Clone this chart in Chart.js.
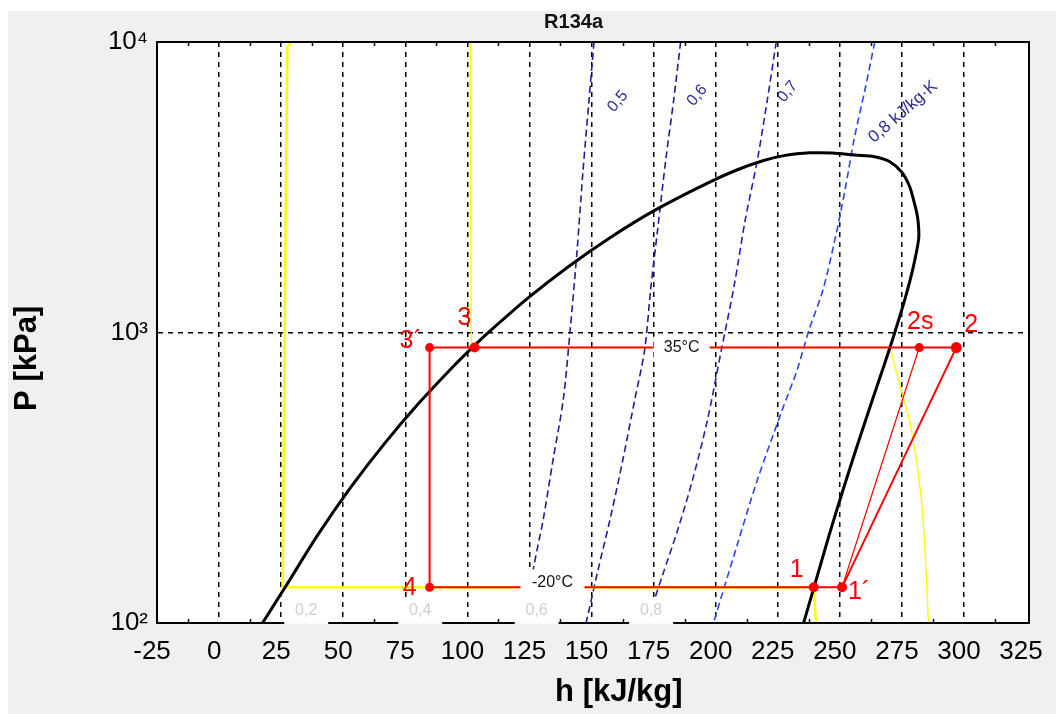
<!DOCTYPE html>
<html>
<head>
<meta charset="utf-8">
<script src="https://cdn.jsdelivr.net/npm/chart.js@4.4.0/dist/chart.umd.min.js"></script>
<style>
  html, body { margin: 0; padding: 0; background: #fff; }
  #chartHolder { width: 1056px; height: 714px; }
</style>
</head>
<body>
<div id="chartHolder"><canvas id="phChart" width="1056" height="714"></canvas></div>
<script>
// R134a pressure-enthalpy diagram, h in kJ/kg, P in kPa

// axis ticks
let hTickLabels = [-25, 0, 25, 50, 75, 100, 125, 150, 175, 200, 225, 250, 275, 300, 325];
let gridLineH = [2, 27, 52, 77, 102, 127, 152, 177, 202, 227, 252, 277, 302];
let minorTickH = [-10.5, 14.5, 39.5, 64.5, 89.5, 114.5, 139.5, 164.5, 189.5, 214.5, 239.5, 264.5, 289.5, 314.5];
let pTickValues = [100, 1000, 10000];
let pTickLabels = ["10\u00b2", "10\u00b3", "10\u2074"];

// saturation dome: liquid side -> critical region -> vapour side
let domeH = [19.5, 28.6, 41.7, 55.0, 68.6, 82.5, 96.7, 104.0, 111.4, 126.6, 142.5, 159.3, 177.4, 197.9, 210.0, 221.0, 230.0, 240.0, 249.0, 258.0, 266.0, 272.0, 276.9, 280.0, 281.7, 283.3, 283.8, 283.7, 281.6, 278.4, 274.4, 272.2, 269.8, 264.7, 259.3, 253.6, 247.7, 241.6, 237.6, 237.4];
let domeP = [100, 132.7, 200.6, 292.8, 414.6, 571.7, 770.2, 887.5, 1016.6, 1317.9, 1681.6, 2116.5, 2633.1, 3244, 3611, 3903, 4071, 4153, 4150, 4080, 4030, 3880, 3570, 3200, 2860, 2500, 2250, 2080, 1681.6, 1317.9, 1016.6, 887.5, 770.2, 571.7, 414.6, 292.8, 200.6, 132.7, 101.3, 100];

// isotherms
let isoMinus20H = [31.1, 29.5, 28.9, 28.2, 27.6, 241.5, 242.4];
let isoMinus20P = [10000, 9600, 3000, 600, 132.7, 132.7, 100];
let iso35H = [103.1, 103.3, 103.6, 272.2, 276.1, 280.1, 282.9, 284.9, 286.1, 286.9, 287.7];
let iso35P = [10000, 3000, 887.5, 887.5, 660, 500, 364, 265, 193, 141, 100];

// isentropes s = 0.5 ... 0.8 kJ/kgK
let s05H = [153.0, 151.0, 148.6, 146.2, 143.4, 140.6, 136.5, 132.5, 128.5, 125.7];
let s05P = [10000, 6317, 3624, 1923, 1020, 586, 364, 226, 152, 100];
let s06H = [187.9, 185.1, 181.9, 178.6, 175.8, 173.4, 169.4, 164.6, 159.4, 154.6, 150.6, 149.8];
let s06P = [10000, 6317, 3925, 2253, 1401, 871, 586, 364, 226, 152, 107, 100];
let s07H = [226.4, 222.8, 218.8, 213.9, 209.5, 204.3, 198.7, 192.7, 186.7, 180.6, 176.6, 174.6];
let s07P = [10000, 6317, 3925, 2439, 1457, 871, 500, 311, 209, 146, 115, 100];
let s08H = [266.1, 262.1, 257.7, 254.1, 250.0, 245.2, 239.6, 234.8, 228.8, 218.8, 210.7, 201.1];
let s08P = [10000, 6834, 4598, 3094, 2081, 1401, 1020, 743, 541, 311, 186, 100];

// refrigeration cycle
let stateNames = ["3\u00b4", "3", "2s", "2", "4", "1", "1\u00b4"];
let stateH = [86.8, 104.9, 284.0, 298.9, 86.8, 241.5, 252.9];
let stateP = [887.5, 887.5, 887.5, 887.5, 132.7, 132.7, 132.7];
let cycleH = [298.9, 86.8, 86.8, 252.9, 298.9];
let cycleP = [887.5, 887.5, 132.7, 132.7, 887.5];
let compressionH = [252.9, 284.0];
let compressionP = [132.7, 887.5];

// annotations
let sLabelText = ["0,5", "0,6", "0,7", "0,8 kJ/kg\u00b7K"];
let sLabelH = [162.6, 194.6, 231.0, 277.5];
let sLabelP = [6250, 6550, 6750, 5750];
let qualityText = ["0,2", "0,4", "0,6", "0,8"];
let qualityH = [37.1, 83.0, 129.9, 176.0];
let qualityP = [110, 110, 110, 110];
let tempText = ["35\u00b0C", "-20\u00b0C"];
let tempH = [188.3, 136.3];
let tempP = [887.5, 132.7];

const fontFamily = "'Liberation Sans', Arial, sans-serif";
Chart.defaults.font.family = fontFamily;

const toPoints = (hValues, pValues) => hValues.map((h, i) => ({ x: h, y: pValues[i] }));

const stateLabelDx = [-19, -10, 1, 15, -20, -17, 17];
const stateLabelDy = [-6, -29, -25, -22, 1, -17, 5];

const diagramDecor = {
  id: "diagramDecor",
  beforeDraw(chart) {
    const { ctx, width, height, chartArea } = chart;
    ctx.save();
    ctx.fillStyle = "#ffffff";
    ctx.fillRect(0, 0, width, height);
    ctx.fillStyle = "#f0f0f0";
    ctx.fillRect(8, 11, width - 8, height - 11);
    ctx.fillStyle = "#ffffff";
    ctx.fillRect(chartArea.left, chartArea.top, chartArea.width, chartArea.height);
    ctx.restore();
  },
  afterDatasetsDraw(chart) {
    const { ctx, chartArea } = chart;
    const xScale = chart.scales.x;
    const yScale = chart.scales.y;
    ctx.save();
    // frame
    ctx.strokeStyle = "#000";
    ctx.lineWidth = 2;
    ctx.strokeRect(chartArea.left, chartArea.top, chartArea.width, chartArea.height);
    // small tick marks on top and bottom edges
    ctx.lineWidth = 1.5;
    ctx.beginPath();
    minorTickH.forEach((h) => {
      const px = Math.round(xScale.getPixelForValue(h)) + 0.5;
      ctx.moveTo(px, chartArea.top);
      ctx.lineTo(px, chartArea.top + 4);
      ctx.moveTo(px, chartArea.bottom);
      ctx.lineTo(px, chartArea.bottom - 4);
    });
    ctx.stroke();
    // vapour quality labels on white boxes over the bottom edge
    ctx.font = "16px " + fontFamily;
    ctx.textAlign = "center";
    ctx.textBaseline = "middle";
    qualityText.forEach((text, i) => {
      const px = xScale.getPixelForValue(qualityH[i]);
      const py = yScale.getPixelForValue(qualityP[i]);
      ctx.fillStyle = "#ffffff";
      ctx.fillRect(px - 22, py - 13, 44, 26);
      ctx.fillStyle = "#cfcfcf";
      ctx.fillText(text, px, py);
    });
    // temperature labels
    tempText.forEach((text, i) => {
      const px = xScale.getPixelForValue(tempH[i]);
      const py = yScale.getPixelForValue(tempP[i]);
      const half = i === 0 ? 28 : 32;
      const top = i === 0 ? -11 : -18;
      const boxH = i === 0 ? 22 : 28;
      ctx.fillStyle = "#ffffff";
      ctx.fillRect(px - half, py + top, half * 2, boxH);
      ctx.fillStyle = "#111";
      ctx.font = "16px " + fontFamily;
      ctx.fillText(text, px, i === 0 ? py : py - 5);
    });
    // state labels
    ctx.font = "25px " + fontFamily;
    ctx.fillStyle = "#ff0000";
    stateNames.forEach((name, i) => {
      const px = xScale.getPixelForValue(stateH[i]);
      const py = yScale.getPixelForValue(stateP[i]);
      ctx.fillText(name, px + stateLabelDx[i], py + stateLabelDy[i]);
    });
    // entropy labels
    ctx.fillStyle = "#2a2a9a";
    sLabelText.forEach((text, i) => {
      const px = xScale.getPixelForValue(sLabelH[i]);
      const py = yScale.getPixelForValue(sLabelP[i]);
      ctx.save();
      ctx.font = (i === 3 ? "17px " : "16px ") + fontFamily;
      ctx.translate(px, py);
      ctx.rotate((i === 3 ? -41 : -50) * Math.PI / 180);
      ctx.fillText(text, 0, 0);
      ctx.restore();
    });
    ctx.restore();
  }
};

const lineSet = (label, hValues, pValues, color, width, extra) => Object.assign({
  label,
  data: toPoints(hValues, pValues),
  borderColor: color,
  borderWidth: width,
  pointRadius: 0,
  tension: 0,
  fill: false
}, extra || {});

new Chart(document.getElementById("phChart"), {
  type: "line",
  data: {
    datasets: [
      {
        label: "states",
        data: toPoints(stateH, stateP),
        showLine: false,
        pointRadius: [4.5, 5, 4.5, 5.5, 4.5, 5, 5],
        pointBackgroundColor: "#ff0000",
        pointBorderColor: "#ff0000",
        pointBorderWidth: 0,
        order: 0
      },
      lineSet("cycle", cycleH, cycleP, "#ff0000", 2, { order: 1 }),
      lineSet("compression", compressionH, compressionP, "#ff0000", 1.2, { order: 1 }),
      lineSet("saturation", domeH, domeP, "#000000", 3, { tension: 0.3, order: 2 }),
      lineSet("-20 C", isoMinus20H, isoMinus20P, "#ffff00", 2.5, { order: 3 }),
      lineSet("35 C", iso35H, iso35P, "#ffff00", 1.4, { order: 3 }),
      lineSet("s 0.5", s05H, s05P, "#1e1e96", 1.6, { tension: 0.3, borderDash: [7, 4], order: 4 }),
      lineSet("s 0.6", s06H, s06P, "#1e1e96", 1.6, { tension: 0.3, borderDash: [7, 4], order: 4 }),
      lineSet("s 0.7", s07H, s07P, "#2222b4", 1.6, { tension: 0.3, borderDash: [7, 4], order: 4 }),
      lineSet("s 0.8", s08H, s08P, "#2a46f0", 1.6, { tension: 0.3, borderDash: [7, 4], order: 4 })
    ]
  },
  options: {
    responsive: false,
    animation: false,
    events: [],
    layout: { padding: { left: 0, right: 23, top: 0, bottom: 0 } },
    plugins: {
      legend: { display: false },
      tooltip: { enabled: false },
      title: {
        display: true,
        text: "R134a\u00a0\u00a0\u00a0\u00a0\u00a0\u00a0\u00a0",
        fullSize: false,
        color: "#111",
        font: { size: 20, weight: "bold" },
        padding: { top: 10.5, bottom: 7.5 }
      }
    },
    scales: {
      x: {
        type: "linear",
        position: "bottom",
        min: -23,
        max: 328.2,
        afterBuildTicks: (scale) => { scale.ticks = hTickLabels.map((value) => ({ value })); },
        afterFit: (scale) => { scale.height = 91; },
        grid: { display: false, drawTicks: false },
        border: { display: true, color: "#000", width: 2 },
        ticks: { autoSkip: false, maxRotation: 0, padding: 13, color: "#000", font: { size: 26 }, callback: (value) => String(value) },
        title: {
          display: true,
          text: "\u00a0\u00a0\u00a0\u00a0\u00a0\u00a0h [kJ/kg]",
          color: "#000",
          font: { size: 31, weight: "bold" },
          padding: { top: 0, bottom: 3 }
        }
      },
      xg: {
        type: "linear",
        position: "bottom",
        min: -23,
        max: 328.2,
        afterBuildTicks: (scale) => { scale.ticks = gridLineH.map((value) => ({ value })); },
        afterFit: (scale) => { scale.height = 0; },
        grid: { display: true, color: "#000", lineWidth: 1.5, drawTicks: false },
        border: { display: false, dash: [5, 5] },
        ticks: { display: false }
      },
      y: {
        type: "logarithmic",
        position: "left",
        min: 100,
        max: 10000,
        afterBuildTicks: (scale) => { scale.ticks = pTickValues.map((value) => ({ value })); },
        afterFit: (scale) => { scale.width = 157; },
        grid: {
          color: (context) => (context.tick && context.tick.value === 1000 ? "#000" : "rgba(0,0,0,0)"),
          lineWidth: 1.5,
          drawTicks: false
        },
        border: { display: true, color: "#000", width: 2, dash: [5, 5] },
        ticks: {
          autoSkip: false,
          padding: 9,
          color: "#000",
          font: { size: 26 },
          callback: (value) => pTickLabels[pTickValues.indexOf(value)] || ""
        },
        title: {
          display: true,
          text: "P [kPa]\u00a0\u00a0\u00a0\u00a0\u00a0\u00a0",
          color: "#000",
          font: { size: 31, weight: "bold" },
          padding: { top: 9, bottom: 0 }
        }
      }
    }
  },
  plugins: [diagramDecor]
});
</script>
</body>
</html>
